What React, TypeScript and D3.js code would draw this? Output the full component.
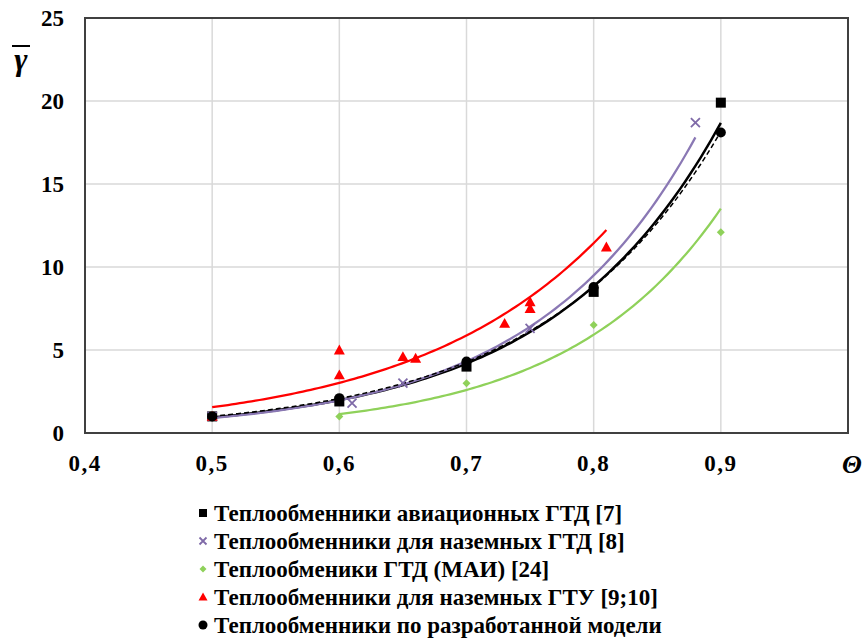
import React from "react";
import * as d3 from "d3";

// ---- data ----
const xTicks = [0.4, 0.5, 0.6, 0.7, 0.8, 0.9];
const yTicks = [0, 5, 10, 15, 20, 25];

const aviaX = [0.5, 0.6, 0.7, 0.8, 0.9];
const aviaY = [1.0, 1.9, 4.0, 8.5, 19.9];

const groundX = [0.5, 0.61, 0.65, 0.75, 0.88];
const groundY = [1.0, 1.8, 3.0, 6.3, 18.7];

const maiX = [0.6, 0.7, 0.8, 0.9];
const maiY = [1.0, 3.0, 6.5, 12.1];

const gtuX = [0.5, 0.6, 0.6, 0.65, 0.66, 0.73, 0.75, 0.75, 0.81];
const gtuY = [1.0, 5.0, 3.5, 4.6, 4.5, 6.6, 7.9, 7.5, 11.2];

const modelX = [0.5, 0.6, 0.7, 0.8, 0.9];
const modelY = [1.0, 2.1, 4.3, 8.8, 18.1];

const legendLabels = [
  "Теплообменники авиационных ГТД [7]",
  "Теплообменники для наземных ГТД [8]",
  "Теплообменики ГТД (МАИ) [24]",
  "Теплообменники для наземных ГТУ [9;10]",
  "Теплообменники по разработанной модели",
];

type Marker = "square" | "cross" | "diamond" | "triangle" | "circle";
interface Series {
  xs: number[];
  ys: number[];
  color: string;
  lineColor: string;
  marker: Marker;
  dash?: string;
  lineWidth: number;
}

const series: Series[] = [
  { xs: aviaX, ys: aviaY, color: "#000000", lineColor: "#000000", marker: "square", lineWidth: 2.5 },
  { xs: groundX, ys: groundY, color: "#7f6aa8", lineColor: "#8a78b4", marker: "cross", lineWidth: 2.25 },
  { xs: maiX, ys: maiY, color: "#8fd15a", lineColor: "#8fd15a", marker: "diamond", lineWidth: 2.25 },
  { xs: gtuX, ys: gtuY, color: "#ff0000", lineColor: "#ff0000", marker: "triangle", lineWidth: 2.25 },
  { xs: modelX, ys: modelY, color: "#000000", lineColor: "#000000", marker: "circle", dash: "5,3", lineWidth: 1.5 },
];

// exponential least-squares fit (like Excel trendline)
function expFit(xs: number[], ys: number[]) {
  const n = xs.length;
  const ls = ys.map((v) => Math.log(v));
  const mx = d3.mean(xs)!;
  const ml = d3.mean(ls)!;
  let sxy = 0, sxx = 0;
  for (let i = 0; i < n; i++) {
    sxy += (xs[i] - mx) * (ls[i] - ml);
    sxx += (xs[i] - mx) ** 2;
  }
  const b = sxy / sxx;
  const a = Math.exp(ml - b * mx);
  return (x: number) => a * Math.exp(b * x);
}

const W = 865, H = 641;
const L = 85, R = 848, T = 18, B = 433;
const xScale = d3.scaleLinear().domain([0.4, 1.0]).range([L, R]);
const yScale = d3.scaleLinear().domain([0, 25]).range([B, T]);

const FONT = "Liberation Serif";

function MarkerShape({ type, x, y, color, s }: { type: Marker; x: number; y: number; color: string; s: number }) {
  switch (type) {
    case "square":
      return <rect x={x - s / 2} y={y - s / 2} width={s} height={s} fill={color} />;
    case "circle":
      return <circle cx={x} cy={y} r={s / 2} fill={color} />;
    case "diamond": {
      const h = s / 2;
      return <path d={`M${x},${y - h}L${x + h},${y}L${x},${y + h}L${x - h},${y}Z`} fill={color} />;
    }
    case "triangle": {
      const h = s / 2;
      return <path d={`M${x},${y - h}L${x + h},${y + h * 0.8}L${x - h},${y + h * 0.8}Z`} fill={color} />;
    }
    case "cross": {
      const h = s / 2;
      return (
        <path d={`M${x - h},${y - h}L${x + h},${y + h}M${x - h},${y + h}L${x + h},${y - h}`} stroke={color} strokeWidth={1.8} fill="none" />
      );
    }
  }
}

export default function App() {
  const line = d3
    .line<[number, number]>()
    .x((d) => xScale(d[0]))
    .y((d) => yScale(d[1]));

  const trend = series.map((s) => {
    const f = expFit(s.xs, s.ys);
    const x0 = d3.min(s.xs)!, x1 = d3.max(s.xs)!;
    const pts: [number, number][] = d3.range(0, 101).map((i) => {
      const x = x0 + ((x1 - x0) * i) / 100;
      return [x, f(x)];
    });
    return line(pts) as string;
  });

  const markerSizes: Record<Marker, number> = { square: 10, cross: 9, diamond: 8, triangle: 11, circle: 10 };
  const legendSizes: Record<Marker, number> = { square: 8, cross: 7, diamond: 7, triangle: 9, circle: 9 };

  return (
    <svg width={W} height={H} style={{ position: "absolute", left: 0, top: 0 }}>
      <rect x={0} y={0} width={W} height={H} fill="#fff" />
      {xTicks.slice(1).map((t) => (
        <line key={"gx" + t} x1={xScale(t)} x2={xScale(t)} y1={T} y2={B} stroke="#d9d9d9" strokeWidth={1.5} />
      ))}
      {yTicks.slice(1, -1).map((t) => (
        <line key={"gy" + t} x1={L} x2={R} y1={yScale(t)} y2={yScale(t)} stroke="#d9d9d9" strokeWidth={1.5} />
      ))}
      <rect x={L} y={T} width={R - L} height={B - T} fill="none" stroke="#404040" strokeWidth={2} />

      {series.map((s, i) => (
        <path key={"t" + i} d={trend[i]} fill="none" stroke={s.lineColor} strokeWidth={s.lineWidth} strokeDasharray={s.dash} />
      ))}

      {series.map((s, i) =>
        s.xs.map((x, j) => (
          <MarkerShape key={`m${i}-${j}`} type={s.marker} x={xScale(x)} y={yScale(s.ys[j])} color={s.color} s={markerSizes[s.marker]} />
        ))
      )}

      {yTicks.map((t) => (
        <text key={"yl" + t} x={64} y={yScale(t) + 8} textAnchor="end" fontFamily={FONT} fontWeight="bold" fontSize={23}>
          {String(t)}
        </text>
      ))}
      {xTicks.map((t) => (
        <text key={"xl" + t} x={xScale(t)} y={471} textAnchor="middle" fontFamily={FONT} fontWeight="bold" fontSize={23} letterSpacing={1.5}>
          {d3.format(".1f")(t).replace(".", ",")}
        </text>
      ))}
      <text x={852} y={473} textAnchor="middle" fontFamily={FONT} fontWeight="bold" fontStyle="italic" fontSize={26}>
        {"Θ"}
      </text>
      <text x={21} y={70} textAnchor="middle" fontFamily={FONT} fontWeight="bold" fontStyle="italic" fontSize={32}>
        {"γ"}
      </text>
      <line x1={12} x2={30} y1={46} y2={46} stroke="#000" strokeWidth={2} />

      {legendLabels.map((lab, i) => {
        const y = 513 + i * 28;
        const s = series[i];
        return (
          <g key={"lg" + i}>
            <MarkerShape type={s.marker} x={203} y={y} color={s.color} s={legendSizes[s.marker]} />
            <text x={214} y={y + 8} fontFamily={FONT} fontWeight="bold" fontSize={23}>
              {lab}
            </text>
          </g>
        );
      })}
    </svg>
  );
}
